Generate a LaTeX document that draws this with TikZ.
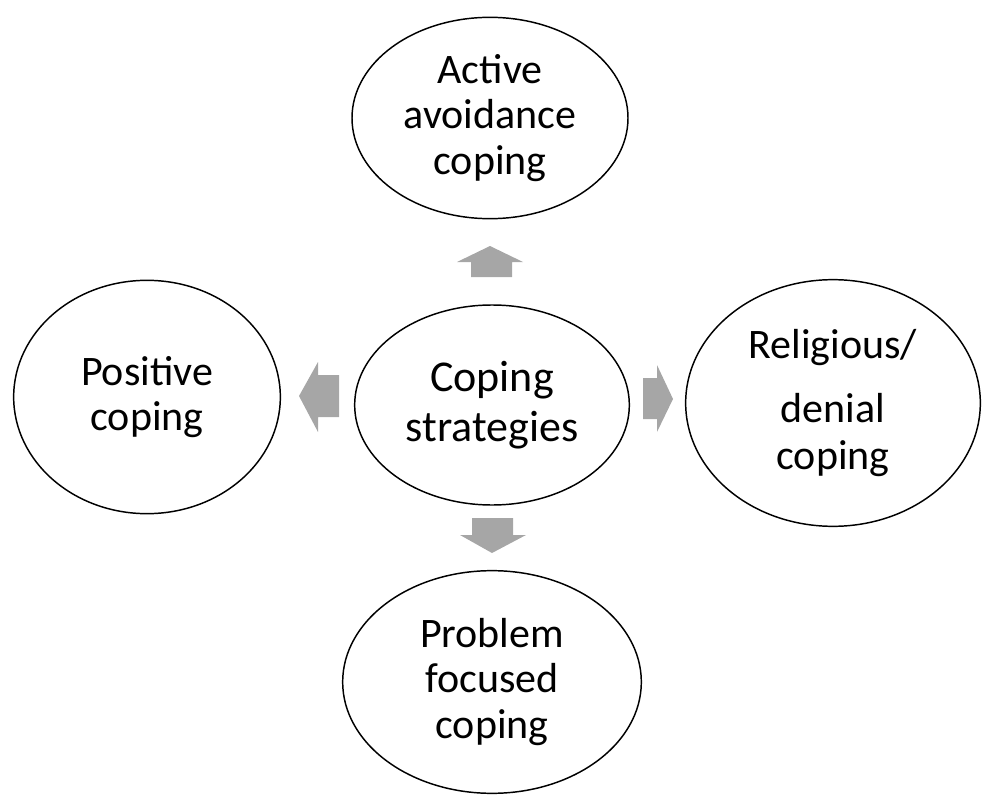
\documentclass[tikz,border=0pt]{standalone}
\usepackage{fontspec}
\setmainfont{Carlito}
\usepackage{xcolor}
\usepackage{tikz}
\usetikzlibrary{shapes.geometric}
\definecolor{arrgray}{HTML}{A6A6A6}

\begin{document}
\begin{tikzpicture}[x=0.75pt, y=-0.75pt,
    bubble/.style={draw, ellipse, line width=1.1pt, align=center, inner sep=0pt,
      font=\fontsize{31.5}{34}\selectfont}]
  \useasboundingbox (0,0) rectangle (983,799);
  \node[bubble, minimum width=207pt, minimum height=151pt] (active) at (490,118) {Active\\avoidance\\coping};
  \node[bubble, minimum width=206pt, minimum height=150pt, font=\fontsize{33}{37}\selectfont] (core) at (492,405) {Coping\\strategies};
  \node[bubble, minimum width=200pt, minimum height=175pt] (positive) at (147,397) {Positive\\coping};
  \node[bubble, minimum width=221pt, minimum height=185pt, font=\fontsize{31.5}{35}\selectfont] (religious) at (833,403) {Religious/\\[13pt]denial\\coping};
  \node[bubble, minimum width=224pt, minimum height=167pt] (problem) at (492,682) {Problem\\focused\\coping};
  % block arrows
  \fill[arrgray] (471,277) -- (471,262) -- (457,262) -- (490,246) -- (523,262) -- (512,262) -- (512,277) -- cycle;
  \fill[arrgray] (472,518) -- (472,535) -- (460,535) -- (492,553) -- (526,535) -- (513,535) -- (513,518) -- cycle;
  \fill[arrgray] (339,375) -- (318,375) -- (318,362) -- (299,396) -- (318,432) -- (318,417) -- (339,417) -- cycle;
  \fill[arrgray] (643,378) -- (657,378) -- (657,365) -- (673,399) -- (657,432) -- (657,419) -- (643,419) -- cycle;
\end{tikzpicture}
\end{document}
